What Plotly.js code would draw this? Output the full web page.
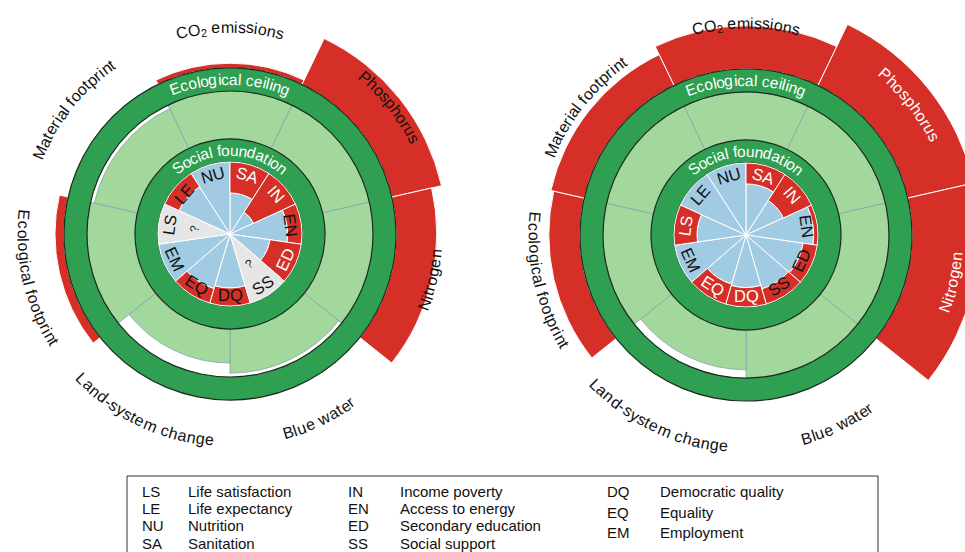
<!DOCTYPE html>
<html>
<head>
<meta charset="utf-8">
<script src="https://cdn.plot.ly/plotly-3.0.1.min.js"></script>
<style>
html,body{margin:0;padding:0;overflow:hidden;background:#fff;}
#chart{width:1000px;height:552px;}
</style>
</head>
<body>
<div id="chart"></div>
<script>
// ---------------- DATA ----------------
// Social dimensions, clockwise from the top
const socialCodes = ['SA','IN','EN','ED','SS','DQ','EQ','EM','LS','LE','NU'];
// Ecological dimensions, clockwise from the top
const ecoLabels = ['CO₂ emissions','Phosphorus','Nitrogen','Blue water','Land-system change','Ecological footprint','Material footprint'];

// Social achievement as a share of the social foundation (null = no data)
const socialLeft  = [0.57, 0.36, 0.80, 0.56, null, 0.75, 0.79, 1.00, null, 0.78, 1.00];
const socialRight = [0.71, 0.57, 0.94, 0.80, 0.78, 0.73, 0.71, 1.00, 0.68, 1.00, 1.00];

// Ecological use relative to the ecological ceiling (1 = at the ceiling)
const ecoLeft  = [1.08, 1.85, 1.68, 0.92, 0.71, 1.15, 0.92];
const ecoRight = [1.72, 2.13, 2.12, 1.00, 0.83, 1.52, 1.57];

// Legend
const legendCodes1 = ['LS','LE','NU','SA'];
const legendNames1 = ['Life satisfaction','Life expectancy','Nutrition','Sanitation'];
const legendCodes2 = ['IN','EN','ED','SS'];
const legendNames2 = ['Income poverty','Access to energy','Secondary education','Social support'];
const legendCodes3 = ['DQ','EQ','EM'];
const legendNames3 = ['Democratic quality','Equality','Employment'];

// ---------------- STYLE / GEOMETRY ----------------
const W = 1000, H = 552;
const FONT = '"Liberation Sans", Arial, Helvetica, sans-serif';
const RED = '#d62f27', BLUE = '#a0cbe2', GREY = '#e6e6e6', LGREEN = '#a3d89c', DGREEN = '#2f9f51', EDGE = '#1e2b22';
const R_SOC = 72, R_SF = 95, R_CI = 143, R_CO = 166, OVER = 60;

const charts = [
  {sub:'polar',  cx:230, cy:234, R:220, labelR:207, social:socialLeft,  eco:ecoLeft},
  {sub:'polar2', cx:746, cy:235, R:235, labelR:212, social:socialRight, eco:ecoRight}
];

const sStep = 360 / socialCodes.length, eStep = 360 / ecoLabels.length;
const sTheta = socialCodes.map((_, i) => (i + 0.5) * sStep);
const eTheta = ecoLabels.map((_, j) => j * eStep);

const traces = [];
const anns = [];
const ctx = document.createElement('canvas').getContext('2d');
function measure(ch, size) { ctx.font = size + 'px "Liberation Sans"'; return ctx.measureText(ch).width; }
function addText(x, y, text, size, color, angle, xanchor) {
  anns.push({xref:'paper', yref:'paper', x:x / W, y:1 - y / H, text:text, showarrow:false,
    textangle:angle || 0, xanchor:xanchor || 'center', yanchor:'middle', borderpad:0,
    font:{family:FONT, size:size, color:color}});
}
function toChars(str, size) {
  const out = [];
  for (const c of str) {
    if (c === '₂') out.push({c:'2', size:size * 0.7, dr:4});
    else out.push({c:c, size:size, dr:0});
  }
  return out;
}
function arcLabel(cx, cy, str, phiC, r, size, color, spacing) {
  const chars = toChars(str, size);
  const widths = chars.map(o => measure(o.c, o.size) + (spacing || 0));
  const L = widths.reduce((a, b) => a + b, 0);
  const top = Math.cos(phiC * Math.PI / 180) > 0;
  let s = 0;
  chars.forEach((o, i) => {
    const mid = s + widths[i] / 2; s += widths[i];
    if (o.c === ' ') return;
    const d = (mid - L / 2) / r * 180 / Math.PI;
    const phi = top ? phiC + d : phiC - d;
    const rr = top ? r - o.dr : r + o.dr;
    const x = cx + rr * Math.sin(phi * Math.PI / 180);
    const y = cy - rr * Math.cos(phi * Math.PI / 180);
    addText(x, y, o.c, o.size, color, top ? phi : phi - 180);
  });
}
function straightLabel(cx, cy, str, phi, r, size, color) {
  const top = Math.cos(phi * Math.PI / 180) > 0;
  const x = cx + r * Math.sin(phi * Math.PI / 180);
  const y = cy - r * Math.cos(phi * Math.PI / 180);
  addText(x, y, str, size, color, top ? phi : phi - 180);
}

const layout = {
  width: W, height: H, margin:{l:0, r:0, t:0, b:0},
  paper_bgcolor:'#fff', showlegend:false, font:{family:FONT},
  annotations: anns, shapes: []
};

charts.forEach(ch => {
  const base = {type:'barpolar', subplot:ch.sub, hoverinfo:'skip', showlegend:false};
  // ecological: within ceiling (light green)
  traces.push(Object.assign({}, base, {
    theta:eTheta, r:ch.eco.map(v => Math.min(v, 1) * (R_CI - R_SF)), base:ch.eco.map(() => R_SF),
    width:ch.eco.map(() => eStep), marker:{color:LGREEN, line:{color:'#86a3ad', width:0.8}}
  }));
  // ecological: overshoot (red)
  const ov = ch.eco.map((v, j) => j).filter(j => ch.eco[j] > 1);
  traces.push(Object.assign({}, base, {
    theta:ov.map(j => eTheta[j]), r:ov.map(j => (ch.eco[j] - 1) * OVER), base:ov.map(() => R_CO),
    width:ov.map(() => eStep), marker:{color:RED, line:{color:'#ffffff', width:1}}
  }));
  // rings
  traces.push(Object.assign({}, base, {
    theta:[0, 0], r:[R_SF - R_SOC, R_CO - R_CI], base:[R_SOC, R_CI], width:[360, 360],
    marker:{color:DGREEN, line:{width:0}}
  }));
  const edges = [R_SOC, R_SF, R_CI, R_CO];
  traces.push(Object.assign({}, base, {
    theta:edges.map(() => 0), r:edges.map(() => 1.2), base:edges.map(e => e - 0.6), width:edges.map(() => 360),
    marker:{color:EDGE, line:{width:0}}
  }));
  // social: achieved (blue)
  const known = ch.social.map((v, i) => i).filter(i => ch.social[i] !== null);
  traces.push(Object.assign({}, base, {
    theta:known.map(i => sTheta[i]), r:known.map(i => ch.social[i] * R_SOC), base:known.map(() => 0),
    width:known.map(() => sStep), marker:{color:BLUE, line:{color:'#ffffff', width:1}}
  }));
  // social: shortfall (red)
  const short = known.filter(i => ch.social[i] < 1);
  traces.push(Object.assign({}, base, {
    theta:short.map(i => sTheta[i]), r:short.map(i => (1 - ch.social[i]) * R_SOC), base:short.map(i => ch.social[i] * R_SOC),
    width:short.map(() => sStep), marker:{color:RED, line:{color:'#ffffff', width:1}}
  }));
  // social: no data (grey)
  const unk = ch.social.map((v, i) => i).filter(i => ch.social[i] === null);
  traces.push(Object.assign({}, base, {
    theta:unk.map(i => sTheta[i]), r:unk.map(() => R_SOC), base:unk.map(() => 0),
    width:unk.map(() => sStep), marker:{color:GREY, line:{color:'#ffffff', width:1}}
  }));

  layout[ch.sub] = {
    domain:{x:[(ch.cx - ch.R) / W, (ch.cx + ch.R) / W], y:[1 - (ch.cy + ch.R) / H, 1 - (ch.cy - ch.R) / H]},
    bgcolor:'rgba(0,0,0,0)', barmode:'overlay', bargap:0, hole:0,
    radialaxis:{visible:false, range:[0, ch.R]},
    angularaxis:{visible:false, rotation:90, direction:'clockwise'}
  };

  // ring titles
  arcLabel(ch.cx, ch.cy, 'Ecological ceiling', 0, (R_CI + R_CO) / 2 + 0.5, 15.5, '#ffffff', 0.2);
  arcLabel(ch.cx, ch.cy, 'Social foundation', 0, (R_SOC + R_SF) / 2 + 0.5, 15.5, '#ffffff', 0.2);
  // ecological labels
  ecoLabels.forEach((lab, j) => {
    arcLabel(ch.cx, ch.cy, lab, eTheta[j], ch.labelR, 16, ch.eco[j] >= 2 ? '#ffffff' : '#111111', 0.3);
  });
  // social codes
  socialCodes.forEach((c, i) => {
    const v = ch.social[i];
    const col = (v !== null && 1 - v >= 0.26) ? '#ffffff' : '#111111';
    straightLabel(ch.cx, ch.cy, c, sTheta[i], 61, 16.5, col);
    if (v === null) straightLabel(ch.cx, ch.cy, '?', sTheta[i], 36, 12, '#222222');
  });
});

// legend box
layout.shapes.push({type:'rect', xref:'paper', yref:'paper', x0:127 / W, x1:878 / W, y0:1 - 570 / H, y1:1 - 476 / H,
  line:{color:'#333333', width:1}, fillcolor:'rgba(0,0,0,0)'});
const rows12 = [491, 508, 525, 543], rows3 = [491, 512, 532];
const legendCols = [
  {codes:legendCodes1, names:legendNames1, xc:141, xn:187, rows:rows12},
  {codes:legendCodes2, names:legendNames2, xc:347, xn:399, rows:rows12},
  {codes:legendCodes3, names:legendNames3, xc:606, xn:659, rows:rows3}
];
legendCols.forEach(col => {
  col.codes.forEach((c, k) => {
    addText(col.xc, col.rows[k], c, 15, '#111111', 0, 'left');
    addText(col.xn, col.rows[k], col.names[k], 15, '#111111', 0, 'left');
  });
});

Plotly.newPlot('chart', traces, layout, {staticPlot:true, displayModeBar:false});
</script>
</body>
</html>
